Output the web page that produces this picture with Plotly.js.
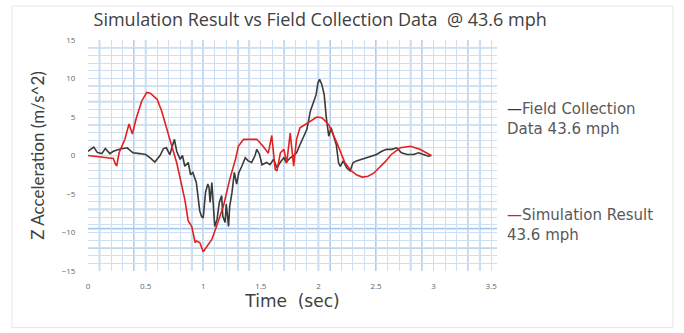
<!DOCTYPE html>
<html>
<head>
<meta charset="utf-8">
<script src="https://cdn.plot.ly/plotly-3.0.1.min.js"></script>
<style>html,body{margin:0;padding:0;background:#fff;}#chart{width:684px;height:333px;}</style>
</head>
<body>
<div id="chart"></div>
<script>
// Field collection data (time in s, Z acceleration in m/s^2)
const fieldT = [0,0.05,0.08,0.12,0.15,0.19,0.22,0.28,0.34,0.39,0.45,0.5,0.54,0.58,0.625,0.655,0.68,0.71,0.75,0.77,0.8,0.82,0.84,0.87,0.89,0.91,0.94,0.97,0.985,1.0,1.02,1.04,1.05,1.06,1.075,1.09,1.1,1.12,1.14,1.16,1.17,1.19,1.2,1.22,1.23,1.25,1.27,1.29,1.31,1.335,1.365,1.39,1.42,1.45,1.465,1.49,1.51,1.55,1.58,1.61,1.64,1.67,1.7,1.72,1.755,1.78,1.81,1.84,1.87,1.9,1.93,1.96,1.98,1.995,2.01,2.03,2.05,2.07,2.09,2.11,2.13,2.155,2.175,2.19,2.215,2.245,2.275,2.3,2.33,2.375,2.42,2.46,2.505,2.55,2.59,2.635,2.68,2.72,2.77,2.825,2.87,2.91,2.955,2.98];
const fieldZ = [0.55,1.1,0.4,0.25,0.9,0.25,0.55,0.85,1.0,0.35,0.25,0.13,-0.3,-0.85,0,0.9,1.0,0.1,2.1,0.55,-0.5,0,-1.4,-0.9,-2.5,-2.2,-3.5,-7.2,-7.9,-8.1,-4.8,-3.7,-4.1,-6.1,-3.5,-7.9,-9.2,-8.3,-6.1,-5.2,-7.9,-8.7,-6.3,-9.2,-6.6,-4.8,-2.2,-3.7,-2.2,-1.4,-0.3,-0.7,-0.9,0,0.8,0.1,-1.2,-0.9,-1.2,-0.5,-1.6,-0.85,-0.3,-0.9,-0.3,-0.1,0.35,1.4,2.5,3.4,5.75,7.05,7.9,9.4,9.9,9.2,7.9,4.7,2.5,3.6,2.5,1.4,-0.95,-1.4,-0.7,-1.6,-2.0,-0.95,-0.7,-0.5,-0.3,-0.1,0.13,0.55,0.8,0.8,1.0,0.35,0.13,0.13,0.35,0.13,-0.1,0];

// Simulation result
const simT = [0,0.13,0.22,0.24,0.25,0.27,0.32,0.356,0.385,0.42,0.466,0.51,0.54,0.6,0.64,0.71,0.77,0.84,0.87,0.9,0.93,0.94,0.97,1.0,1.03,1.075,1.12,1.175,1.23,1.28,1.305,1.35,1.465,1.52,1.565,1.595,1.625,1.64,1.67,1.7,1.725,1.755,1.77,1.785,1.81,1.84,1.91,1.985,2.03,2.09,2.16,2.23,2.28,2.33,2.38,2.43,2.48,2.53,2.58,2.63,2.71,2.8,2.88,2.98];
const simZ = [0,-0.2,-0.4,-1.2,-1.3,0.35,2.1,4.1,2.8,4.9,7.05,8.2,8.1,7.3,5.75,2.1,-0.95,-5.7,-8.5,-9.2,-11.3,-11.1,-11.3,-12.5,-11.8,-10.9,-9.0,-6.6,-3.1,-0.5,1.2,2.1,2.1,1.2,0.3,2.6,-1.8,-2.0,0.35,0.8,-0.95,2.9,0.8,-1.4,2.1,3.6,4.25,5.0,4.9,4.0,1.65,-0.95,-1.9,-2.5,-2.8,-2.7,-2.3,-1.6,-0.8,0.1,1.0,1.2,0.8,0];

const fieldName = "Field Collection Data 43.6 mph";
const simName = "Simulation Result 43.6 mph";
const xTicks = [0,0.5,1,1.5,2,2.5,3,3.5];
const xTickText = ["0","0.5","1","1.5","2","2.5","3","3.5"];
const yTicks = [-15,-10,-5,0,5,10,15];

// graph-paper darker lines
const darkX = [0.1,0.4,0.5,0.9,1.0,1.3,1.4,1.7,2.0,2.1,2.5,2.8,2.9,3.3,3.4];
const darkY = [14,9,7,4,-7,-9.5,-12];

const shapes = [];
darkX.forEach(v => shapes.push({type:'line',xref:'x',yref:'paper',x0:v,x1:v,y0:0,y1:1,line:{color:'#9bbfe0',width:1.6},layer:'below'}));
darkY.forEach(v => shapes.push({type:'line',xref:'paper',yref:'y',x0:0,x1:1,y0:v,y1:v,line:{color:'#a9c9e6',width:1.6},layer:'below'}));
shapes.push({type:'rect',xref:'paper',yref:'paper',x0:-0.186,x1:1.43,y0:-0.245,y1:1.147,line:{color:'#e6e6e6',width:1},layer:'below'});

const traces = [
  {x:fieldT,y:fieldZ,name:fieldName,type:'scatter',mode:'lines',line:{color:'#3a3a3a',width:1.6}},
  {x:simT,y:simZ,name:simName,type:'scatter',mode:'lines',line:{color:'#e3201e',width:1.6}}
];

const OS = '"Open Sans", Lato, sans-serif';
const DJ = '"DejaVu Sans", sans-serif';
const layout = {
  width:684,height:333,
  margin:{l:88,r:187,t:40,b:62},
  paper_bgcolor:'#fff',plot_bgcolor:'#fff',
  font:{family:OS,color:'#595959'},
  showlegend:false,
  title:{text:'Simulation Result vs Field Collection Data\u00a0 @ 43.6 mph',font:{size:18,color:'#404040',family:OS},x:0.468,xanchor:'center',y:0.94,yanchor:'middle'},
  xaxis:{range:[0,3.55],tickvals:xTicks,ticktext:xTickText,tickfont:{size:8,color:'#666',family:OS},showgrid:true,gridcolor:'#cddff1',gridwidth:1,
    minor:{dtick:0.1,showgrid:true,gridcolor:'#cddff1',gridwidth:1},zeroline:false,showline:false,ticks:'outside',ticklen:7,tickcolor:'rgba(0,0,0,0)',
    title:{text:'Time\u00a0 (sec)',font:{size:17,color:'#404040',family:DJ},standoff:3}},
  yaxis:{range:[-15,15],tickvals:yTicks,tickfont:{size:8,color:'#666',family:OS},showgrid:true,gridcolor:'#cddff1',gridwidth:1,
    minor:{dtick:1,showgrid:true,gridcolor:'#cddff1',gridwidth:1},zeroline:false,showline:false,ticks:'outside',ticklen:10,tickcolor:'rgba(0,0,0,0)',
    title:{text:'Z Acceleration (m/s^2)',font:{size:17,color:'#404040',family:'Lato, sans-serif'},standoff:12}},
  shapes:shapes,
  annotations:[
    {xref:'paper',yref:'paper',x:1.02,y:0.75,xanchor:'left',yanchor:'top',align:'left',showarrow:false,
     text:'<span style="color:#3a3a3a">—</span>Field Collection<br>Data 43.6 mph',font:{size:15,color:'#595959',family:DJ}},
    {xref:'paper',yref:'paper',x:1.02,y:0.29,xanchor:'left',yanchor:'top',align:'left',showarrow:false,
     text:'<span style="color:#e3201e">—</span>Simulation Result<br>43.6 mph',font:{size:15,color:'#595959',family:DJ}}
  ]
};
Plotly.newPlot('chart',traces,layout,{displayModeBar:false,staticPlot:true});
</script>
</body>
</html>
